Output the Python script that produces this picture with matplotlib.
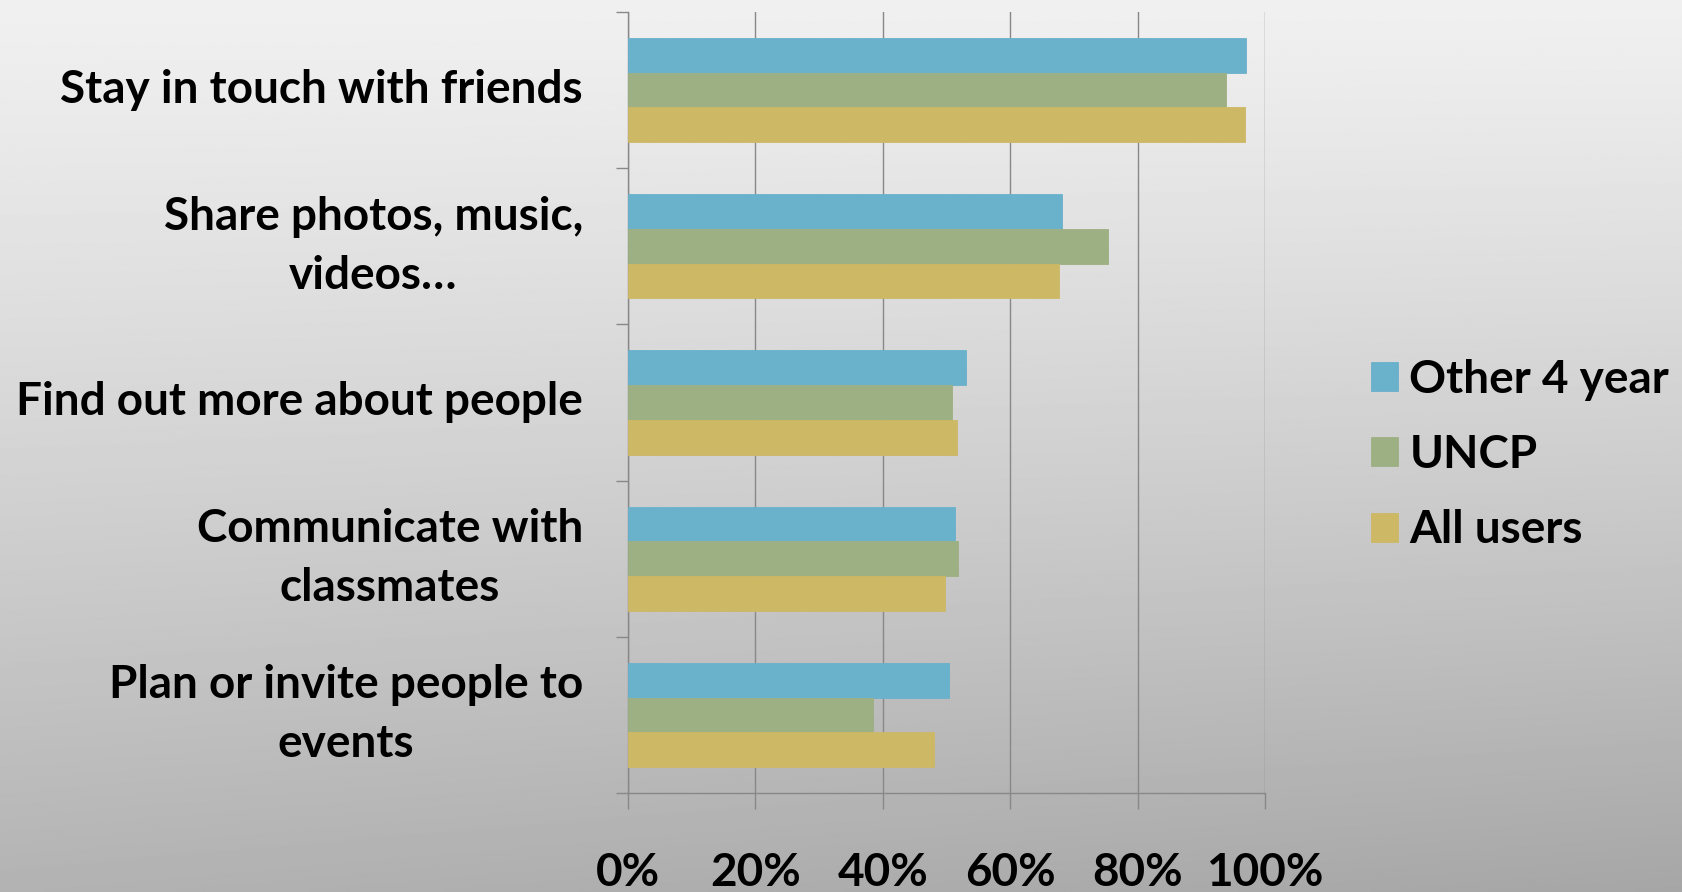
import numpy as np
import matplotlib
matplotlib.use("Agg")
import matplotlib.pyplot as plt

categories = ["Stay in touch with friends", "Share photos, music,\nvideos…",
              "Find out more about people", "Communicate with\nclassmates",
              "Plan or invite people to\nevents"]
series_names = ["Other 4 year", "UNCP", "All users"]
other4 = [0.97, 0.682, 0.530, 0.513, 0.504]
uncp = [0.938, 0.754, 0.509, 0.518, 0.385]
allusers = [0.968, 0.677, 0.516, 0.497, 0.480]
xticklabels = ["0%", "20%", "40%", "60%", "80%", "100%"]

colors = ["#6AB1CB", "#9DB083", "#CDB866"]
FONT = "Lato"
plt.rcParams['font.family'] = [FONT, 'DejaVu Sans']
FS = 33

W, H = 1683, 892
fig = plt.figure(figsize=(W/100, H/100), dpi=100)

# background gradient
bg = fig.add_axes([0, 0, 1, 1], zorder=-10)
yy = np.linspace(0, 1, 400)[:, None]
xx = np.linspace(0, 1, 400)[None, :]
t = 0.85 * yy + 0.15 * xx * yy
vals = 240 - (240 - 166) * (t ** 1.15)
bg.imshow(vals, cmap="gray", vmin=0, vmax=255, aspect="auto", extent=[0, 1, 0, 1], origin="upper")
bg.axis("off")

left, right = 628/W, 1265/W
bottom, top = (H-793)/H, (H-12)/H
ax = fig.add_axes([left, bottom, right-left, top-bottom])
ax.patch.set_alpha(0)

n = len(categories)
ypos = np.arange(n)[::-1].astype(float)  # first category at top
bh = 0.222
data = [other4, uncp, allusers]
for i, (vals_s, c) in enumerate(zip(data, colors)):
    ax.barh(ypos + (1 - i) * bh, vals_s, height=bh, color=c, edgecolor=c,
            linewidth=0.6, zorder=3, label=series_names[i])

ax.set_xlim(0, 1)
ax.set_ylim(-0.5, n - 0.5)
ax.set_xticks(np.linspace(0, 1, 6))
ax.set_xticklabels(xticklabels, fontsize=FS, fontweight="bold", family=[FONT, 'DejaVu Sans'])
ax.tick_params(axis="x", length=11.5, width=1.0, color="#888888", pad=31)
ax.set_yticks(np.arange(n + 1) - 0.5, minor=False)
ax.set_yticklabels([])
ax.tick_params(axis="y", length=8.6, width=1.0, color="#888888")
ax.grid(axis="x", color="#888888", linewidth=1.0, zorder=0)
for s in ["top", "right"]:
    ax.spines[s].set_visible(False)
for s in ["left", "bottom"]:
    ax.spines[s].set_color("#888888")
    ax.spines[s].set_linewidth(1.0)

# category labels
for yv, lab in zip(ypos, categories):
    ax.text(-0.0707, yv, lab, transform=ax.get_yaxis_transform(), ha="right", va="center",
            multialignment="center", fontsize=FS, fontweight="bold", linespacing=1.5,
            color="black")

# legend
leg = fig.legend(loc="center left", bbox_to_anchor=(1371/W, (H-455)/H), frameon=False,
                 prop={"family": FONT, "weight": "bold", "size": FS},
                 borderpad=0, borderaxespad=0,
                 handlelength=0.59, handleheight=0.59, handletextpad=0.25, labelspacing=0.73)

fig.savefig("out.png", dpi=100)
